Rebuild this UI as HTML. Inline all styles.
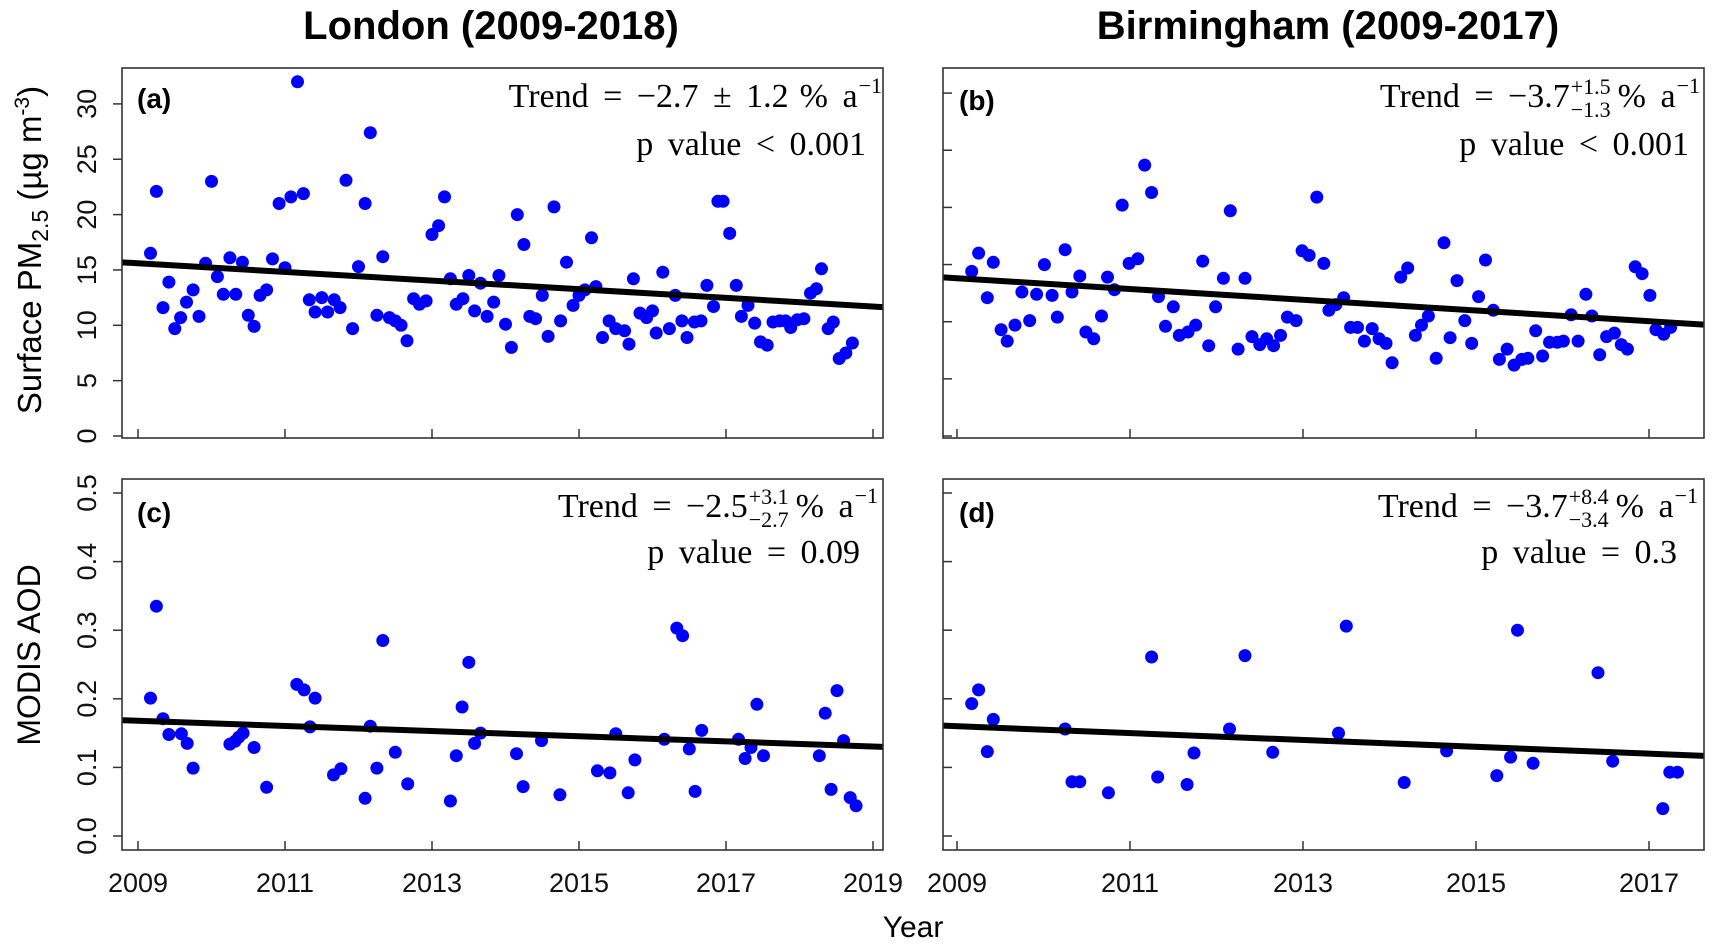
<!DOCTYPE html>
<html><head><meta charset="utf-8">
<style>
html,body{margin:0;padding:0;background:#fff;}
svg{display:block;}
</style></head>
<body>
<svg id="fig" width="1722" height="948" viewBox="0 0 1722 948" xmlns="http://www.w3.org/2000/svg">
<text x="491" y="39" text-anchor="middle" font-family="Liberation Sans, sans-serif" font-weight="bold" font-size="40">London (2009-2018)</text>
<text x="1328" y="39" text-anchor="middle" font-family="Liberation Sans, sans-serif" font-weight="bold" font-size="40">Birmingham (2009-2017)</text>
<text transform="translate(41,250) rotate(-90)" text-anchor="middle" font-family="Liberation Sans, sans-serif" font-size="33">Surface PM<tspan font-size="23" dy="7">2.5</tspan><tspan dy="-7"> (µg m</tspan><tspan font-size="21" dy="-12">-3</tspan><tspan dy="12">)</tspan></text>
<text transform="translate(40,655) rotate(-90)" text-anchor="middle" font-family="Liberation Sans, sans-serif" font-size="32">MODIS AOD</text>
<text x="913" y="937" text-anchor="middle" font-family="Liberation Sans, sans-serif" font-size="30">Year</text>
<g id="plots"></g>
</svg>
<script>
// ---- Panel (a) London PM2.5 ----
const aYears = [2009.17,2009.25,2009.34,2009.42,2009.50,2009.58,2009.66,2009.75,2009.83,2009.92,2010.00,2010.08,2010.16,2010.25,2010.33,2010.42,2010.50,2010.58,2010.66,2010.75,2010.83,2010.92,2011.00,2011.08,2011.17,2011.25,2011.33,2011.41,2011.50,2011.58,2011.67,2011.75,2011.83,2011.92,2012.00,2012.09,2012.16,2012.25,2012.33,2012.42,2012.50,2012.58,2012.66,2012.75,2012.83,2012.92,2013.00,2013.09,2013.17,2013.25,2013.33,2013.42,2013.50,2013.58,2013.66,2013.75,2013.84,2013.91,2014.00,2014.08,2014.16,2014.25,2014.33,2014.41,2014.50,2014.58,2014.66,2014.75,2014.83,2014.92,2015.00,2015.08,2015.17,2015.23,2015.32,2015.41,2015.50,2015.62,2015.68,2015.74,2015.83,2015.92,2016.00,2016.05,2016.14,2016.23,2016.31,2016.40,2016.47,2016.57,2016.66,2016.74,2016.83,2016.89,2016.96,2017.05,2017.14,2017.21,2017.30,2017.39,2017.47,2017.56,2017.64,2017.73,2017.81,2017.88,2017.97,2018.06,2018.15,2018.23,2018.30,2018.39,2018.46,2018.54,2018.63,2018.72];
const aValues = [16.5,22.1,11.6,13.9,9.7,10.7,12.1,13.2,10.8,15.6,23.0,14.4,12.8,16.1,12.8,15.7,10.9,9.9,12.7,13.2,16.0,21.0,15.2,21.6,32.0,21.9,12.3,11.2,12.5,11.2,12.3,11.6,23.1,9.7,15.3,21.0,27.4,10.9,16.2,10.7,10.4,10.0,8.6,12.4,11.9,12.2,18.2,19.0,21.6,14.2,11.9,12.4,14.5,11.3,13.8,10.8,12.1,14.5,10.1,8.0,20.0,17.3,10.8,10.6,12.7,9.0,20.7,10.4,15.7,11.8,12.7,13.2,17.9,13.5,8.9,10.4,9.7,9.5,8.3,14.2,11.1,10.7,11.3,9.3,14.8,9.7,12.7,10.4,8.9,10.3,10.4,13.6,11.7,21.2,21.2,18.3,13.6,10.8,11.8,10.2,8.5,8.2,10.3,10.4,10.4,9.8,10.5,10.6,12.9,13.3,15.1,9.7,10.3,7.0,7.5,8.4];
const aTrend = [15.6, -0.39]; // value at 2009, slope per year

// ---- Panel (b) Birmingham PM2.5 ----
const bYears = [2009.17,2009.25,2009.35,2009.42,2009.51,2009.58,2009.67,2009.75,2009.84,2009.92,2010.01,2010.10,2010.16,2010.25,2010.33,2010.42,2010.49,2010.58,2010.67,2010.74,2010.82,2010.91,2010.99,2011.09,2011.17,2011.25,2011.33,2011.41,2011.50,2011.57,2011.67,2011.76,2011.84,2011.91,2011.99,2012.08,2012.16,2012.25,2012.33,2012.41,2012.50,2012.58,2012.66,2012.74,2012.82,2012.92,2012.99,2013.07,2013.16,2013.24,2013.30,2013.38,2013.47,2013.55,2013.63,2013.71,2013.80,2013.88,2013.96,2014.03,2014.13,2014.21,2014.30,2014.37,2014.45,2014.54,2014.63,2014.70,2014.78,2014.87,2014.95,2015.03,2015.11,2015.20,2015.27,2015.36,2015.44,2015.53,2015.60,2015.69,2015.77,2015.85,2015.94,2016.01,2016.10,2016.18,2016.27,2016.34,2016.43,2016.51,2016.60,2016.68,2016.75,2016.84,2016.92,2017.01,2017.08,2017.17,2017.25];
const bValues = [14.4,16.0,12.1,15.2,9.3,8.3,9.7,12.6,10.1,12.4,15.0,12.3,10.4,16.3,12.6,14.0,9.1,8.5,10.5,13.9,12.8,20.2,15.1,15.5,23.7,21.3,12.2,9.6,11.3,8.8,9.1,9.7,15.3,7.9,11.3,13.8,19.7,7.6,13.8,8.7,8.0,8.5,7.9,8.8,10.4,10.1,16.2,15.8,20.9,15.1,11.0,11.5,12.1,9.5,9.5,8.3,9.4,8.5,8.1,6.4,13.9,14.7,8.8,9.7,10.5,6.8,16.9,8.6,13.6,10.1,8.1,12.2,15.4,11.0,6.7,7.6,6.2,6.7,6.8,9.2,7.0,8.2,8.2,8.3,10.6,8.3,12.4,10.5,7.1,8.7,9.0,8.0,7.6,14.8,14.2,12.3,9.3,8.9,9.5];
const bTrend = [13.8, -0.47];

// ---- Panel (c) London AOD ----
const cYears = [2009.17,2009.25,2009.34,2009.42,2009.59,2009.67,2009.75,2010.25,2010.32,2010.37,2010.43,2010.58,2010.75,2011.16,2011.26,2011.34,2011.41,2011.66,2011.76,2012.09,2012.16,2012.25,2012.33,2012.50,2012.67,2013.25,2013.33,2013.41,2013.50,2013.58,2013.66,2014.15,2014.24,2014.49,2014.74,2015.25,2015.42,2015.50,2015.67,2015.76,2016.16,2016.33,2016.41,2016.50,2016.58,2016.67,2017.17,2017.26,2017.34,2017.42,2017.51,2018.27,2018.35,2018.43,2018.51,2018.60,2018.69,2018.77];
const cValues = [0.201,0.335,0.171,0.148,0.149,0.135,0.099,0.134,0.138,0.144,0.150,0.129,0.071,0.221,0.213,0.159,0.201,0.089,0.098,0.055,0.160,0.099,0.285,0.122,0.076,0.051,0.117,0.188,0.253,0.135,0.150,0.120,0.072,0.139,0.060,0.095,0.092,0.149,0.063,0.111,0.141,0.303,0.292,0.127,0.065,0.154,0.141,0.113,0.129,0.192,0.117,0.117,0.179,0.068,0.212,0.139,0.056,0.044];
const cTrend = [0.168, -0.00376];

// ---- Panel (d) Birmingham AOD ----
const dYears = [2009.17,2009.25,2009.35,2009.42,2010.25,2010.33,2010.42,2010.75,2011.25,2011.32,2011.66,2011.74,2012.15,2012.33,2012.65,2013.41,2013.50,2014.17,2014.66,2015.24,2015.40,2015.48,2015.66,2016.41,2016.58,2017.16,2017.24,2017.33];
const dValues = [0.193,0.213,0.123,0.170,0.156,0.079,0.079,0.063,0.261,0.086,0.075,0.121,0.156,0.263,0.122,0.150,0.306,0.078,0.124,0.088,0.115,0.300,0.106,0.238,0.109,0.040,0.093,0.093];
const dTrend = [0.160, -0.005];

const pmTicks = [0,5,10,15,20,25,30];
const aodTicks = [0,0.1,0.2,0.3,0.4,0.5];
const aodTickLabels = ["0.0","0.1","0.2","0.3","0.4","0.5"];
const londonYearTicks = [2009,2011,2013,2015,2017,2019];
const birmYearTicks = [2009,2011,2013,2015,2017];

const NS = "http://www.w3.org/2000/svg";
const root = document.getElementById('plots');
function mk(tag, attrs, parent){ const e=document.createElementNS(NS,tag); for(const k in attrs) e.setAttribute(k,attrs[k]); (parent||root).appendChild(e); return e; }

const panels = [
 {id:'a', box:[122,68,883,438], x0:2009,x0px:138,pxYear:73.5, y0px:436, pxUnit:11.07, years:aYears, vals:aValues, trend:aTrend, yTicks:pmTicks, yLabels:pmTicks.map(String), showY:true, yOut:true, xTicks:londonYearTicks, showX:false, label:'(a)', lx:137, ly:108},
 {id:'b', box:[943,68,1704,438], x0:2009,x0px:957,pxYear:86.5, y0px:436, pxUnit:11.43, years:bYears, vals:bValues, trend:bTrend, yTicks:pmTicks, yLabels:null, showY:false, yOut:false, xTicks:birmYearTicks, showX:false, label:'(b)', lx:959, ly:110},
 {id:'c', box:[122,479,883,850], x0:2009,x0px:138,pxYear:73.5, y0px:836, pxUnit:686, years:cYears, vals:cValues, trend:cTrend, yTicks:aodTicks, yLabels:aodTickLabels, showY:true, yOut:true, xTicks:londonYearTicks, showX:true, label:'(c)', lx:137, ly:522},
 {id:'d', box:[943,479,1704,850], x0:2009,x0px:957,pxYear:86.5, y0px:836, pxUnit:686, years:dYears, vals:dValues, trend:dTrend, yTicks:aodTicks, yLabels:null, showY:false, yOut:false, xTicks:birmYearTicks, showX:true, label:'(d)', lx:959, ly:522}
];

panels.forEach(p=>{
  const X = yr => p.x0px + (yr - p.x0)*p.pxYear;
  const Y = v => p.y0px - v*p.pxUnit;
  const [l,t,r,b] = p.box;
  const g = mk('g',{});
  
  
  const clipId='clip-'+p.id;
  const cp = mk('clipPath',{id:clipId},g);
  mk('rect',{x:l,y:t,width:r-l,height:b-t},cp);
  const pts = mk('g',{},g);
  
  
  p.years.forEach((yr,i)=>{
    const c = mk('circle',{cx:X(yr).toFixed(1), cy:Y(p.vals[i]).toFixed(1), r:6.5, fill:'#0000ff'},pts);
    
    
  });
  const yrL = p.x0 + (l - p.x0px)/p.pxYear, yrR = p.x0 + (r - p.x0px)/p.pxYear;
  const tv = yr => p.trend[0] + p.trend[1]*(yr - 2009);
  const tl = mk('line',{x1:l,y1:Y(tv(yrL)),x2:r,y2:Y(tv(yrR)),stroke:'#000','stroke-width':6,'clip-path':'url(#'+clipId+')'},g);
  
  
  const fr = mk('rect',{x:l,y:t,width:r-l,height:b-t,fill:'none',stroke:'#333','stroke-width':1.6},g);
  
  
  p.yTicks.forEach((v,i)=>{
    const y=Y(v);
    const tk = mk('line',{x1:l,y1:y,x2:p.yOut?l-9:l+9,y2:y,stroke:'#333','stroke-width':1.5},g);
    
    
    if(p.showY){
      const tx = mk('text',{transform:'translate(96,'+y+') rotate(-90)','text-anchor':'middle','font-family':'Liberation Sans, sans-serif','font-size':27,fill:'#111'},g);
      tx.textContent = p.yLabels[i];
      
      
    }
  });
  p.xTicks.forEach(yr=>{
    const x=X(yr);
    const tk = mk('line',{x1:x,y1:b,x2:x,y2:b-9,stroke:'#333','stroke-width':1.5},g);
    
    
    if(p.showX){
      const tx = mk('text',{x:x,y:892,'text-anchor':'middle','font-family':'Liberation Sans, sans-serif','font-size':27,fill:'#111'},g);
      tx.textContent = String(yr);
      
      
    }
  });
  const lb = mk('text',{x:p.lx,y:p.ly,'font-family':'Liberation Sans, sans-serif','font-weight':'bold','font-size':28},g);
  lb.textContent = p.label;
  
  
});

// annotations
const serif = 'Liberation Serif, serif';
function annot(id, rightX, baseY, main, sup, sub, pText, pRight, pBase){
  const g = mk('g',{});
  
  
  const ws = 6;
  const t1 = mk('text',{x:0,y:baseY,'font-family':serif,'font-size':34,'word-spacing':ws},g);
  t1.textContent = main;
  let x = t1.getBBox().width;
  let s1=null,s2=null;
  if(sup!==null){
    s1 = mk('text',{x:0,y:baseY-13,'font-family':serif,'font-size':22},g); s1.textContent=sup;
    s2 = mk('text',{x:0,y:baseY+10,'font-family':serif,'font-size':22},g); s2.textContent=sub;
  }
  const supStart = x + 1;
  if(s1) x += Math.max(s1.getBBox().width, s2.getBBox().width) + 8;
  else x += 11;
  const t2 = mk('text',{x:0,y:baseY,'font-family':serif,'font-size':34,'word-spacing':ws},g);
  t2.textContent = '% a';
  const t2Start = x;
  x += t2.getBBox().width + 1;
  const t3 = mk('text',{x:0,y:baseY-14,'font-family':serif,'font-size':22},g);
  t3.textContent = '\u22121';
  const t3Start = x;
  x += t3.getBBox().width;
  const startX = rightX - x;
  t1.setAttribute('x', startX);
  if(s1){ s1.setAttribute('x', startX+supStart); s2.setAttribute('x', startX+supStart); }
  t2.setAttribute('x', startX+t2Start);
  t3.setAttribute('x', startX+t3Start);
  const pv = mk('text',{x:pRight,y:pBase,'text-anchor':'end','font-family':serif,'font-size':34,'word-spacing':ws},g);
  pv.textContent = pText;
  
  
}
annot('a', 882, 107, 'Trend = \u22122.7 \u00b1 1.2', null, null, 'p value < 0.001', 866, 155);
annot('b', 1700, 107, 'Trend = \u22123.7', '+1.5', '\u22121.3', 'p value < 0.001', 1689, 155);
annot('c', 878, 517, 'Trend = \u22122.5', '+3.1', '\u22122.7', 'p value = 0.09', 860, 563);
annot('d', 1698, 517, 'Trend = \u22123.7', '+8.4', '\u22123.4', 'p value = 0.3', 1677, 563);
</script>
</body></html>
